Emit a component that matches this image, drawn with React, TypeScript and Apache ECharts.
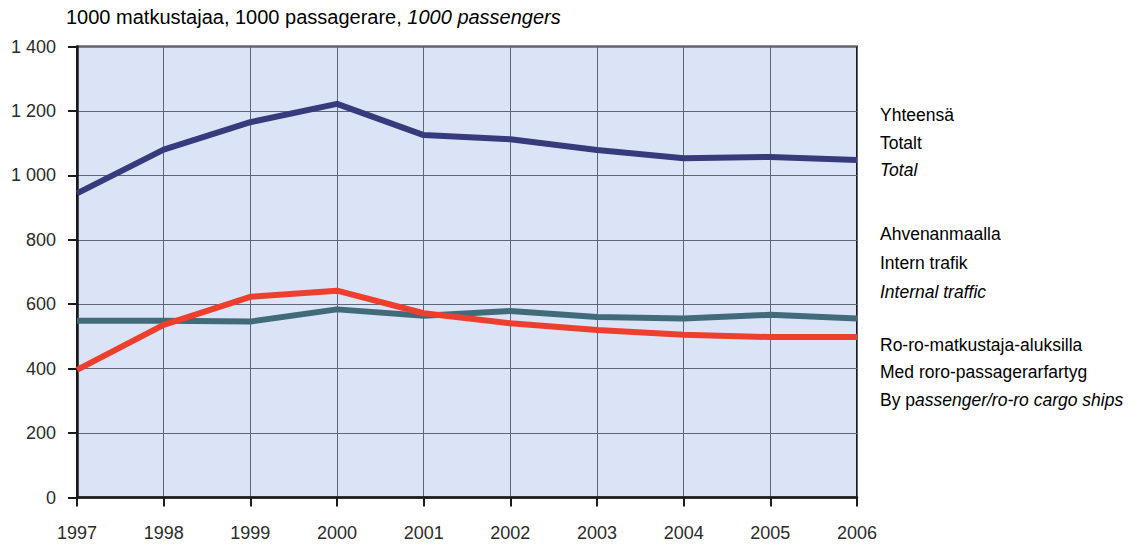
import React, { useEffect, useRef } from "react";
import * as echarts from "echarts";

const years = ["1997", "1998", "1999", "2000", "2001", "2002", "2003", "2004", "2005", "2006"];
const totalValues = [944, 1080, 1165, 1222, 1125, 1112, 1079, 1053, 1057, 1048];
const internalValues = [549, 549, 546, 584, 564, 579, 560, 556, 567, 556];
const roroValues = [396, 536, 623, 642, 572, 541, 520, 505, 498, 498];

const yMin = 0;
const yMax = 1400;
const yStep = 200;

const FONT = "'Liberation Sans', Arial, Helvetica, sans-serif";
const TEXT_COLOR = "#2b2b2b";
const FS = 17.5;
const AXIS_FS = 18;
const TITLE_FS = 20;

const legendLines: { y: number; parts: { t: string; italic?: boolean }[] }[] = [
  { y: 115, parts: [{ t: "Yhteensä" }] },
  { y: 143, parts: [{ t: "Totalt" }] },
  { y: 170, parts: [{ t: "Total", italic: true }] },
  { y: 234, parts: [{ t: "Ahvenanmaalla" }] },
  { y: 263, parts: [{ t: "Intern trafik" }] },
  { y: 292, parts: [{ t: "Internal traffic", italic: true }] },
  { y: 345, parts: [{ t: "Ro-ro-matkustaja-aluksilla" }] },
  { y: 372, parts: [{ t: "Med roro-passagerarfartyg" }] },
  { y: 400, parts: [{ t: "By p" }, { t: "assenger/ro-ro cargo ships", italic: true }] },
];

function fmt(v: number): string {
  if (v >= 1000) {
    const th = Math.floor(v / 1000);
    const rest = String(v % 1000).padStart(3, "0");
    return th + " " + rest;
  }
  return String(v);
}

export default function App() {
  const ref = useRef<HTMLDivElement>(null);
  useEffect(() => {
    if (!ref.current) return;
    const chart = echarts.init(ref.current, undefined, { renderer: "svg" });
    const rich = {
      n: { fontFamily: FONT, fontSize: FS, color: TEXT_COLOR, fontStyle: "normal" },
      i: { fontFamily: FONT, fontSize: FS, color: TEXT_COLOR, fontStyle: "italic" },
    };
    const titleRich = {
      n: { fontFamily: FONT, fontSize: TITLE_FS, color: TEXT_COLOR, fontStyle: "normal" },
      i: { fontFamily: FONT, fontSize: TITLE_FS, color: TEXT_COLOR, fontStyle: "italic" },
    };
    const legendGraphics = legendLines.map((ln) => ({
      type: "text",
      x: 880,
      y: ln.y,
      style: {
        text: ln.parts.map((p) => `{${p.italic ? "i" : "n"}|${p.t}}`).join(""),
        rich,
        verticalAlign: "middle",
        align: "left",
      },
    }));
    const lineSeries = (name: string, data: number[], color: string) => ({
      name,
      type: "line",
      data,
      symbol: "none",
      lineStyle: { color, width: 6, join: "round", cap: "butt" },
      z: 3,
    });
    chart.setOption({
      animation: false,
      backgroundColor: "#ffffff",
      textStyle: { fontFamily: FONT },
      grid: {
        left: 77,
        right: 274,
        top: 46.5,
        bottom: 49.5,
        show: true,
        backgroundColor: "#dae4f6",
        borderColor: "#1a1a1a",
        borderWidth: 2,
      },
      xAxis: {
        type: "category",
        data: years,
        boundaryGap: false,
        axisLine: { show: true, lineStyle: { color: "#1a1a1a", width: 2.5 } },
        axisTick: { show: true, alignWithLabel: true, length: 9, lineStyle: { color: "#1a1a1a", width: 2 } },
        axisLabel: { fontFamily: FONT, fontSize: AXIS_FS, color: TEXT_COLOR, margin: 26 },
        splitLine: { show: true, lineStyle: { color: "#5d6576", width: 1 } },
      },
      yAxis: {
        type: "value",
        min: yMin,
        max: yMax,
        interval: yStep,
        axisLine: { show: true, lineStyle: { color: "#1a1a1a", width: 2.5 } },
        axisTick: { show: true, length: 9, lineStyle: { color: "#1a1a1a", width: 2 } },
        axisLabel: { fontFamily: FONT, fontSize: AXIS_FS, color: TEXT_COLOR, margin: 21, formatter: (v: number) => fmt(v) },
        splitLine: { show: true, lineStyle: { color: "#5d6576", width: 1 } },
      },
      series: [
        lineSeries("Yhteensä", totalValues, "#373b7b"),
        lineSeries("Ahvenanmaalla", internalValues, "#416b7a"),
        lineSeries("Ro-ro-matkustaja-aluksilla", roroValues, "#ee3f2e"),
      ],
      graphic: [
        {
          type: "text",
          x: 66,
          y: 17,
          style: {
            text: "{n|1000 matkustajaa, 1000 passagerare, }{i|1000 passengers}",
            rich: titleRich,
            verticalAlign: "middle",
            align: "left",
          },
        },
        ...legendGraphics,
      ],
    });
    return () => chart.dispose();
  }, []);
  return (
    <div
      ref={ref}
      style={{ position: "fixed", left: 0, top: 0, width: 1131, height: 547, background: "#fff" }}
    />
  );
}
